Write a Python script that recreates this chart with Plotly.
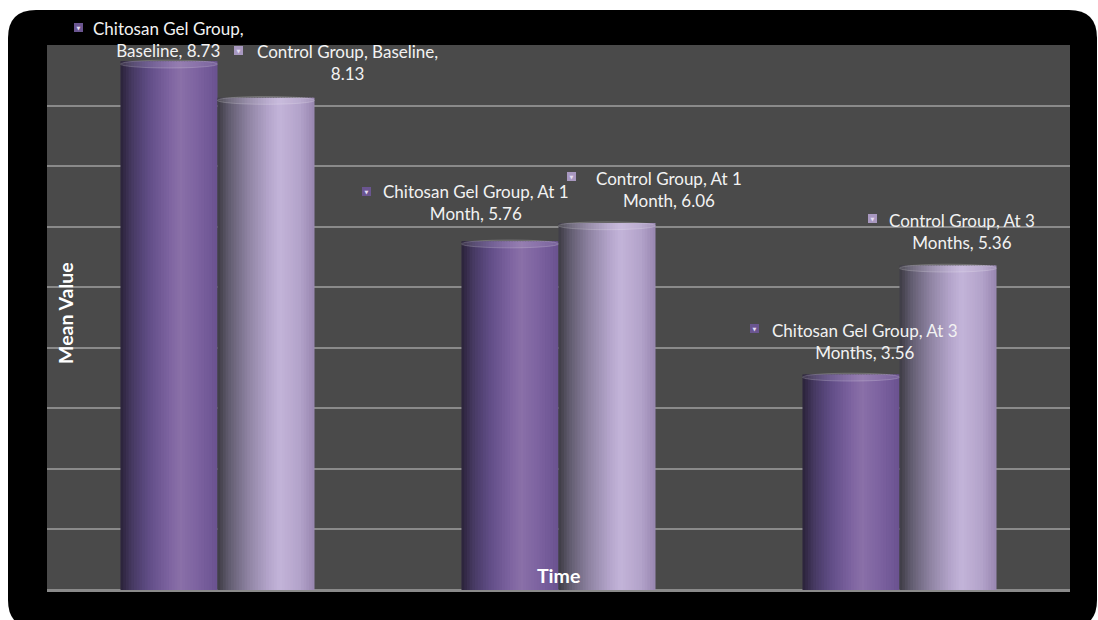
import plotly.graph_objects as go

# ---------------- data ----------------
categories = ["Baseline", "At 1 Month", "At 3 Months"]
series_names = ["Chitosan Gel Group", "Control Group"]
chitosan_values = [8.73, 5.76, 3.56]
control_values = [8.13, 6.06, 5.36]

# ---------------- style ----------------
W, H = 1098, 620
ML, MR, MT, MB = 47, 28, 45, 30
PW, PH = W - ML - MR, H - MT - MB
FONT = "Lato"
PLOT_BG = "#4a4a4a"
GRID = "#8a8a8a"
BAR_W = 0.2845          # width of one bar in category units
K = 36                  # slices per cylinder for the gradient

grad_stops = [
    [(0.0, "#2a2238"), (0.12, "#463962"), (0.3, "#624e88"), (0.5, "#7d64a0"),
     (0.62, "#8a70a8"), (0.8, "#7c62a0"), (1.0, "#6a5290")],
    [(0.0, "#3d3b44"), (0.12, "#625c70"), (0.32, "#8f84a3"), (0.52, "#b3a4ca"),
     (0.64, "#c3b4d9"), (0.85, "#b3a3ca"), (1.0, "#9886b0")],
]
icon_colors = ["#6a5590", "#a898c0"]


def hex2rgb(h):
    h = h.lstrip("#")
    return tuple(int(h[i:i + 2], 16) for i in (0, 2, 4))


def interp(stops, t):
    for (t0, c0), (t1, c1) in zip(stops[:-1], stops[1:]):
        if t0 <= t <= t1:
            f = (t - t0) / (t1 - t0) if t1 > t0 else 0
            a, b = hex2rgb(c0), hex2rgb(c1)
            return "rgb(%d,%d,%d)" % tuple(round(a[i] + (b[i] - a[i]) * f) for i in range(3))
    return stops[-1][1]


fig = go.Figure()

all_values = [chitosan_values, control_values]
left_offsets = [-BAR_W, 0.0]
for s, vals in enumerate(all_values):
    step = BAR_W / K
    for j in range(K):
        off = left_offsets[s] + j * step
        wdt = min(step * 1.6, BAR_W - j * step)
        fig.add_trace(go.Bar(
            x=categories, y=vals, width=[wdt] * 3, offset=off,
            marker=dict(color=interp(grad_stops[s], (j + 0.5) / K), line=dict(width=0)),
            hoverinfo="skip", showlegend=False, name=series_names[s]))

# ---------------- frame shapes ----------------
def px2paper(px, py):
    return (px - ML) / PW, (H - MB - py) / PH


def rounded_path(x0, y0, x1, y1, r):
    def P(x, y):
        a, b = px2paper(x, y)
        return "%.5f,%.5f" % (a, b)
    d = "M " + P(x0 + r, y0)
    d += " L " + P(x1 - r, y0) + " Q " + P(x1, y0) + " " + P(x1, y0 + r)
    d += " L " + P(x1, y1 - r) + " Q " + P(x1, y1) + " " + P(x1 - r, y1)
    d += " L " + P(x0 + r, y1) + " Q " + P(x0, y1) + " " + P(x0, y1 - r)
    d += " L " + P(x0, y0 + r) + " Q " + P(x0, y0) + " " + P(x0 + r, y0) + " Z"
    return d


shapes = [
    dict(type="path", xref="paper", yref="paper", path=rounded_path(8, 10, 1097, 628, 28),
         fillcolor="#000000", line=dict(width=0), layer="below"),
    dict(type="rect", xref="paper", yref="paper", x0=0, x1=1, y0=0, y1=1,
         fillcolor=PLOT_BG, line=dict(width=0), layer="below"),
]

# cylinder caps
for s, vals in enumerate(all_values):
    for i, v in enumerate(vals):
        shapes.append(dict(type="circle", xref="x", yref="y",
                           x0=i + left_offsets[s], x1=i + left_offsets[s] + BAR_W,
                           y0=v - 0.11, y1=v + 0.02,
                           fillcolor="rgba(255,255,255,0.10)",
                           line=dict(width=1, color="rgba(255,255,255,0.18)"), layer="above"))

# ---------------- data labels ----------------
# pixel offsets of label text centre / icon centre from the bar top centre
text_off = [[(0, 22), (-34, 39), (14, 33)], [(81, 35), (62, 34), (14, 34)]]
icon_off = [[(-90, 34), (-143, 50), (-96, 46)], [(-28, 47), (-36, 47), (-76, 47)]]

annotations = []
for s, vals in enumerate(all_values):
    for i, v in enumerate(vals):
        xc = i + left_offsets[s] + BAR_W / 2
        cat_txt = categories[i]
        if i == 0:
            txt = ("%s,<br>%s, %.2f" % (series_names[s], cat_txt, v)) if s == 0 else \
                  ("%s, %s,<br>%.2f" % (series_names[s], cat_txt, v))
        else:
            head, tail = cat_txt.split(" ", 1)
            tw = tail.split(" ")
            txt = "%s, %s %s<br>%s, %.2f" % (series_names[s], head, tw[0], tw[1], v)
        dx, dy = text_off[s][i]
        annotations.append(dict(x=xc, y=v, xref="x", yref="y", text=txt, showarrow=False,
                                xshift=dx, yshift=dy, xanchor="center", yanchor="middle",
                                align="center", font=dict(family=FONT, size=17, color="#f2f2f2")))
        ix, iy = icon_off[s][i]
        annotations.append(dict(x=xc, y=v, xref="x", yref="y", text="▼", showarrow=False,
                                xshift=ix, yshift=iy, xanchor="center", yanchor="middle",
                                width=9, height=9, borderpad=0, bgcolor=icon_colors[s],
                                borderwidth=0,
                                font=dict(family="DejaVu Sans", size=5, color="#e6def2")))

# axis titles (inside plot area)
annotations.append(dict(x=(558 - ML) / PW, y=(H - MB - 575) / PH, xref="paper", yref="paper",
                        text="<b>Time</b>", showarrow=False, xanchor="center", yanchor="middle",
                        font=dict(family=FONT, size=19.5, color="#ffffff")))
annotations.append(dict(x=(65 - ML) / PW, y=(H - MB - 313) / PH, xref="paper", yref="paper",
                        text="<b>Mean Value</b>", showarrow=False, textangle=-90,
                        xanchor="center", yanchor="middle",
                        font=dict(family=FONT, size=19.5, color="#ffffff")))

fig.update_layout(
    width=W, height=H, margin=dict(l=ML, r=MR, t=MT, b=MB),
    paper_bgcolor="#ffffff", plot_bgcolor=PLOT_BG,
    barmode="overlay", showlegend=False,
    shapes=shapes, annotations=annotations,
    xaxis=dict(type="category", categoryorder="array", categoryarray=categories,
               range=[-0.5, 2.5], showticklabels=False, ticks="", showgrid=False,
               zeroline=False, showline=False, fixedrange=True),
    yaxis=dict(range=[0, 9], dtick=1, showticklabels=False, ticks="", showgrid=True,
               gridcolor=GRID, gridwidth=2, zeroline=True, zerolinecolor=GRID,
               zerolinewidth=3, showline=False, fixedrange=True),
    hovermode=False,
)

fig.write_html("out.html", config={"displayModeBar": False})
